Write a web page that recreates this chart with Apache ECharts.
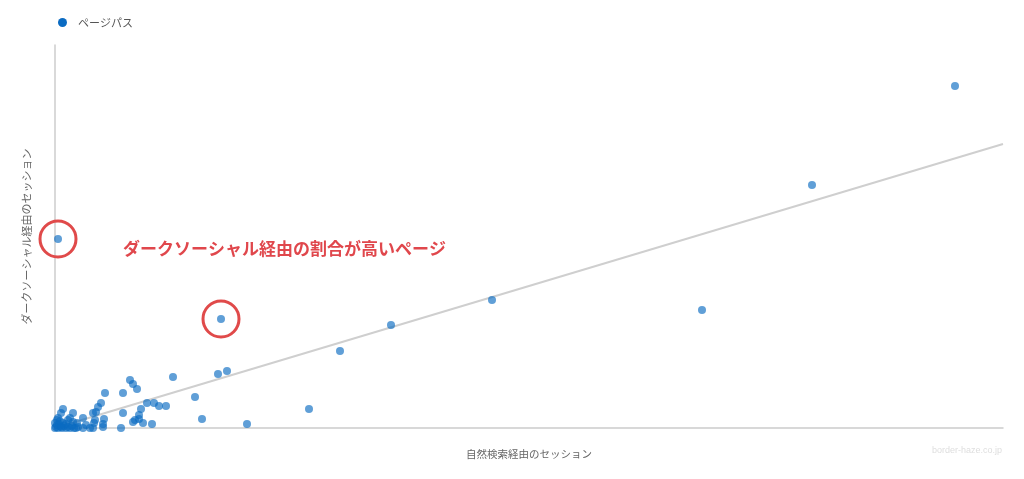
<!DOCTYPE html>
<html><head><meta charset="utf-8">
<script src="https://cdn.jsdelivr.net/npm/echarts@6/dist/echarts.min.js"></script>
<style>html,body{margin:0;padding:0;background:#fff}#c{width:1024px;height:479px}</style>
</head><body><div id="c"></div>
<script>
const seriesName = 'ページパス';
const xAxisName = '自然検索経由のセッション';
const yAxisName = 'ダークソーシャル経由のセッション';
const annotation = 'ダークソーシャル経由の割合が高いページ';
const watermark = 'border-haze.co.jp';
const xMax = 9480, yMax = 383;
// [organic sessions, dark social sessions]
const organic = [9000,7570,6470,4370,3360,2850,2540,1920,1660,1720,1630,1400,1470,1180,30,1110,1040,990,920,970,860,840,840,800,780,880,750,780,820,680,500,460,680,660,430,410,380,490,400,390,480,350,280,280,180,80,60,150,180,130,30,20,0,220,230,380,480,10,30,50,70,90,110,130,150,170,190,40,80,110,0,20,60,210,310,50];
const darkSocial = [342,243,118,128,103,77,19,4,109,57,54,31,9,51,189,22,22,25,25,4,19,13,9,8,6,5,48,44,39,35,35,25,15,0,21,16,15,9,8,5,4,0,0,10,15,19,15,10,6,8,10,8,5,5,1,0,1,1,0,2,0,2,0,1,0,2,0,4,5,4,0,3,1,0,3,7];
// regression slope (through origin)
const trendSlope = 0.02996;
const highlighted = [14, 8]; // indices of circled pages

const points = organic.map((x, i) => [x, darkSocial[i]]);
const chart = echarts.init(document.getElementById('c'));
const font = '"Noto Sans CJK JP", "Noto Sans", sans-serif';
chart.setOption({
  animation: false,
  textStyle: {fontFamily: font},
  legend: {
    data: [{name: seriesName, itemStyle: {opacity: 1, color: '#0b6bc2'}}],
    left: 53, top: 12, icon: 'circle', itemWidth: 9, itemHeight: 9, itemGap: 10,
    textStyle: {color: '#555', fontSize: 11, fontFamily: font, padding: [0, 0, 0, 6]}
  },
  grid: {left: 55, right: 21, top: 45, bottom: 51},
  xAxis: {
    type: 'value', min: 0, max: xMax,
    name: xAxisName, nameLocation: 'middle', nameGap: 21,
    nameTextStyle: {color: '#666', fontSize: 10.5, fontFamily: font},
    axisLine: {show: true, lineStyle: {color: '#ccc', width: 1.5}},
    axisTick: {show: false}, axisLabel: {show: false}, splitLine: {show: false}
  },
  yAxis: {
    type: 'value', min: 0, max: yMax,
    name: yAxisName, nameLocation: 'middle', nameGap: 23,
    nameTextStyle: {color: '#666', fontSize: 11, fontFamily: font},
    axisLine: {show: true, lineStyle: {color: '#ccc', width: 1.5}},
    axisTick: {show: false}, axisLabel: {show: false}, splitLine: {show: false}
  },
  series: [
    {
      name: 'trend', type: 'line', silent: true, symbol: 'none', z: 1,
      data: [[0, 0], [xMax, xMax * trendSlope]],
      lineStyle: {color: '#cfcfcf', width: 2}
    },
    {
      name: seriesName, type: 'scatter', symbolSize: 8, z: 3,
      data: points,
      itemStyle: {color: '#0b6bc2', opacity: 0.65},
      markPoint: {
        symbol: 'circle', symbolSize: 36, silent: true,
        label: {show: false},
        itemStyle: {color: 'rgba(0,0,0,0)', borderColor: '#e04a4a', borderWidth: 3, opacity: 1},
        data: highlighted.map(i => ({coord: points[i]}))
      }
    }
  ],
  graphic: [
    {type: 'text', left: 123, top: 240, style: {text: annotation, fill: '#e0474c', font: 'bold 17px ' + font}},
    {type: 'text', right: 22, top: 446, style: {text: watermark, fill: '#dedede', font: '9px "Liberation Sans", sans-serif'}}
  ]
});
</script></body></html>
